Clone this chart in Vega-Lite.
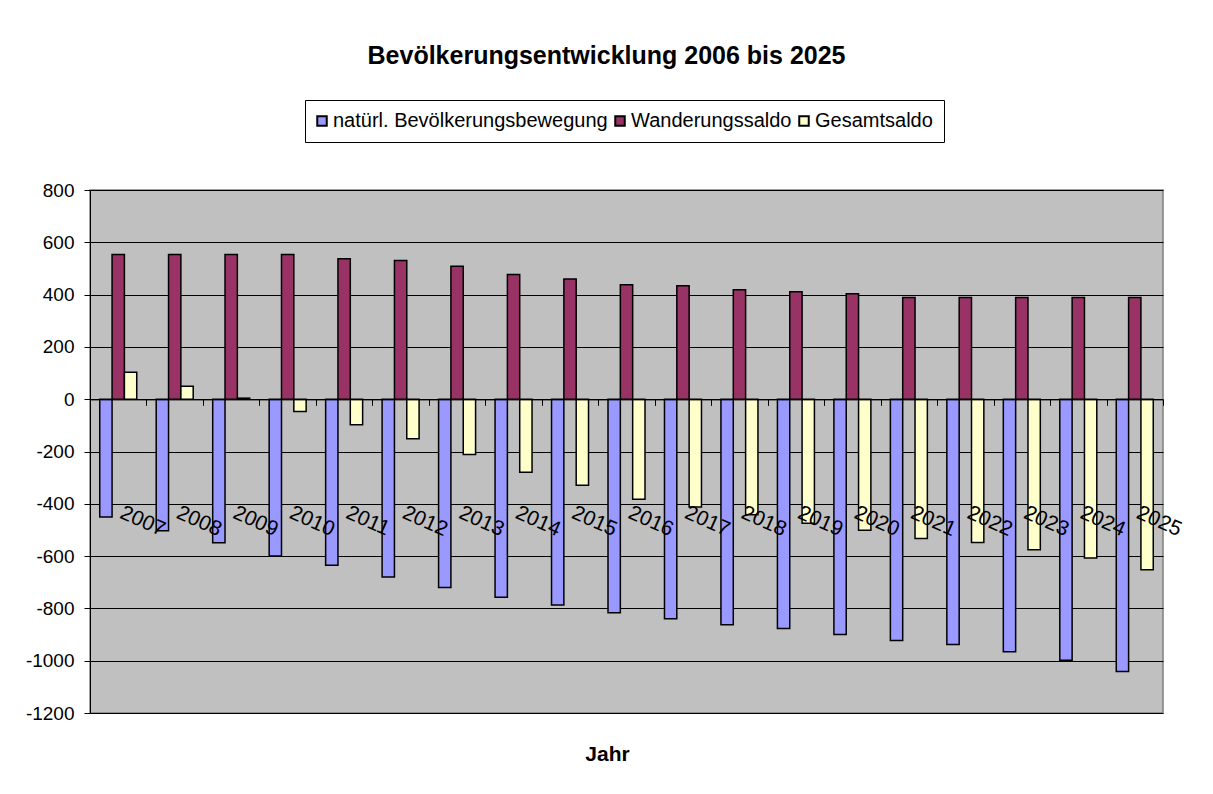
{
  "$schema": "https://vega.github.io/schema/vega-lite/v6.json",
  "width": 1073,
  "height": 523,
  "autosize": {"type": "none"},
  "padding": {"left": 90, "top": 190, "right": 50, "bottom": 81},
  "background": "white",
  "title": {
    "text": "Bevölkerungsentwicklung 2006 bis 2025",
    "font": "Liberation Sans",
    "fontSize": 25,
    "fontWeight": "bold",
    "color": "black",
    "anchor": "middle",
    "dx": -20,
    "offset": 31
  },
  "config": {
    "font": "Liberation Sans",
    "view": {"fill": "#C0C0C0", "stroke": "#808080", "strokeWidth": 1.5}
  },
  "data": {
    "values": [
      {"Jahr": "2007", "Reihe": "natürl. Bevölkerungsbewegung", "Wert": -450},
      {"Jahr": "2007", "Reihe": "Wanderungssaldo", "Wert": 553},
      {"Jahr": "2007", "Reihe": "Gesamtsaldo", "Wert": 103},
      {"Jahr": "2008", "Reihe": "natürl. Bevölkerungsbewegung", "Wert": -503},
      {"Jahr": "2008", "Reihe": "Wanderungssaldo", "Wert": 553},
      {"Jahr": "2008", "Reihe": "Gesamtsaldo", "Wert": 50},
      {"Jahr": "2009", "Reihe": "natürl. Bevölkerungsbewegung", "Wert": -549},
      {"Jahr": "2009", "Reihe": "Wanderungssaldo", "Wert": 553},
      {"Jahr": "2009", "Reihe": "Gesamtsaldo", "Wert": 4},
      {"Jahr": "2010", "Reihe": "natürl. Bevölkerungsbewegung", "Wert": -600},
      {"Jahr": "2010", "Reihe": "Wanderungssaldo", "Wert": 553},
      {"Jahr": "2010", "Reihe": "Gesamtsaldo", "Wert": -47},
      {"Jahr": "2011", "Reihe": "natürl. Bevölkerungsbewegung", "Wert": -635},
      {"Jahr": "2011", "Reihe": "Wanderungssaldo", "Wert": 537},
      {"Jahr": "2011", "Reihe": "Gesamtsaldo", "Wert": -98},
      {"Jahr": "2012", "Reihe": "natürl. Bevölkerungsbewegung", "Wert": -680},
      {"Jahr": "2012", "Reihe": "Wanderungssaldo", "Wert": 530},
      {"Jahr": "2012", "Reihe": "Gesamtsaldo", "Wert": -151},
      {"Jahr": "2013", "Reihe": "natürl. Bevölkerungsbewegung", "Wert": -720},
      {"Jahr": "2013", "Reihe": "Wanderungssaldo", "Wert": 508},
      {"Jahr": "2013", "Reihe": "Gesamtsaldo", "Wert": -211},
      {"Jahr": "2014", "Reihe": "natürl. Bevölkerungsbewegung", "Wert": -757},
      {"Jahr": "2014", "Reihe": "Wanderungssaldo", "Wert": 477},
      {"Jahr": "2014", "Reihe": "Gesamtsaldo", "Wert": -279},
      {"Jahr": "2015", "Reihe": "natürl. Bevölkerungsbewegung", "Wert": -787},
      {"Jahr": "2015", "Reihe": "Wanderungssaldo", "Wert": 460},
      {"Jahr": "2015", "Reihe": "Gesamtsaldo", "Wert": -329},
      {"Jahr": "2016", "Reihe": "natürl. Bevölkerungsbewegung", "Wert": -817},
      {"Jahr": "2016", "Reihe": "Wanderungssaldo", "Wert": 438},
      {"Jahr": "2016", "Reihe": "Gesamtsaldo", "Wert": -383},
      {"Jahr": "2017", "Reihe": "natürl. Bevölkerungsbewegung", "Wert": -840},
      {"Jahr": "2017", "Reihe": "Wanderungssaldo", "Wert": 434},
      {"Jahr": "2017", "Reihe": "Gesamtsaldo", "Wert": -412},
      {"Jahr": "2018", "Reihe": "natürl. Bevölkerungsbewegung", "Wert": -863},
      {"Jahr": "2018", "Reihe": "Wanderungssaldo", "Wert": 419},
      {"Jahr": "2018", "Reihe": "Gesamtsaldo", "Wert": -442},
      {"Jahr": "2019", "Reihe": "natürl. Bevölkerungsbewegung", "Wert": -877},
      {"Jahr": "2019", "Reihe": "Wanderungssaldo", "Wert": 411},
      {"Jahr": "2019", "Reihe": "Gesamtsaldo", "Wert": -474},
      {"Jahr": "2020", "Reihe": "natürl. Bevölkerungsbewegung", "Wert": -900},
      {"Jahr": "2020", "Reihe": "Wanderungssaldo", "Wert": 403},
      {"Jahr": "2020", "Reihe": "Gesamtsaldo", "Wert": -501},
      {"Jahr": "2021", "Reihe": "natürl. Bevölkerungsbewegung", "Wert": -923},
      {"Jahr": "2021", "Reihe": "Wanderungssaldo", "Wert": 389},
      {"Jahr": "2021", "Reihe": "Gesamtsaldo", "Wert": -533},
      {"Jahr": "2022", "Reihe": "natürl. Bevölkerungsbewegung", "Wert": -938},
      {"Jahr": "2022", "Reihe": "Wanderungssaldo", "Wert": 389},
      {"Jahr": "2022", "Reihe": "Gesamtsaldo", "Wert": -548},
      {"Jahr": "2023", "Reihe": "natürl. Bevölkerungsbewegung", "Wert": -966},
      {"Jahr": "2023", "Reihe": "Wanderungssaldo", "Wert": 389},
      {"Jahr": "2023", "Reihe": "Gesamtsaldo", "Wert": -576},
      {"Jahr": "2024", "Reihe": "natürl. Bevölkerungsbewegung", "Wert": -998},
      {"Jahr": "2024", "Reihe": "Wanderungssaldo", "Wert": 389},
      {"Jahr": "2024", "Reihe": "Gesamtsaldo", "Wert": -607},
      {"Jahr": "2025", "Reihe": "natürl. Bevölkerungsbewegung", "Wert": -1041},
      {"Jahr": "2025", "Reihe": "Wanderungssaldo", "Wert": 389},
      {"Jahr": "2025", "Reihe": "Gesamtsaldo", "Wert": -652}
    ]
  },
  "mark": {"type": "bar", "stroke": "black", "strokeWidth": 1.5},
  "encoding": {
    "x": {
      "field": "Jahr",
      "type": "ordinal",
      "scale": {"paddingInner": 0, "paddingOuter": 0},
      "axis": {
        "orient": "bottom",
        "offset": -313.6,
        "zindex": 2,
        "title": "Jahr",
        "titleX": 517,
        "titleY": 355,
        "titleBaseline": "middle",
        "titleAlign": "center",
        "titleFontSize": 21,
        "titleFontWeight": "bold",
        "titleColor": "black",
        "labelAngle": 24,
        "labelAlign": "left",
        "labelBaseline": "top",
        "labelPadding": 96,
        "labelOffset": 7,
        "labelFontSize": 21,
        "labelColor": "black",
        "labelOverlap": false,
        "tickBand": "extent",
        "tickSize": 6,
        "tickColor": "black",
        "domainColor": "black",
        "domainWidth": 1,
        "grid": false
      }
    },
    "xOffset": {
      "field": "Reihe",
      "sort": ["natürl. Bevölkerungsbewegung", "Wanderungssaldo", "Gesamtsaldo"],
      "scale": {"paddingInner": 0, "paddingOuter": 0.79}
    },
    "y": {
      "field": "Wert",
      "type": "quantitative",
      "scale": {"domain": [-1200, 800], "nice": false},
      "axis": {
        "title": null,
        "values": [-1200, -1000, -800, -600, -400, -200, 0, 200, 400, 600, 800],
        "labelExpr": "'' + datum.value",
        "grid": true,
        "gridColor": "black",
        "gridWidth": 1,
        "gridOpacity": 1,
        "tickSize": 6,
        "tickColor": "black",
        "domainColor": "black",
        "labelPadding": 10,
        "labelFontSize": 19,
        "labelColor": "black"
      }
    },
    "color": {
      "field": "Reihe",
      "type": "nominal",
      "sort": ["natürl. Bevölkerungsbewegung", "Wanderungssaldo", "Gesamtsaldo"],
      "scale": {
        "domain": ["natürl. Bevölkerungsbewegung", "Wanderungssaldo", "Gesamtsaldo"],
        "range": ["#9999FF", "#993366", "#FFFFCC"]
      },
      "legend": {
        "orient": "none",
        "legendX": 215,
        "legendY": -90,
        "direction": "horizontal",
        "title": null,
        "strokeColor": "black",
        "fillColor": "white",
        "padding": 11,
        "labelFontSize": 20,
        "labelColor": "black",
        "labelLimit": 400,
        "symbolType": "square",
        "symbolSize": 90,
        "symbolStrokeColor": "black",
        "symbolStrokeWidth": 2,
        "symbolOpacity": 1,
        "symbolOffset": -4,
        "columnPadding": 3,
        "labelOffset": 1
      }
    }
  }
}
